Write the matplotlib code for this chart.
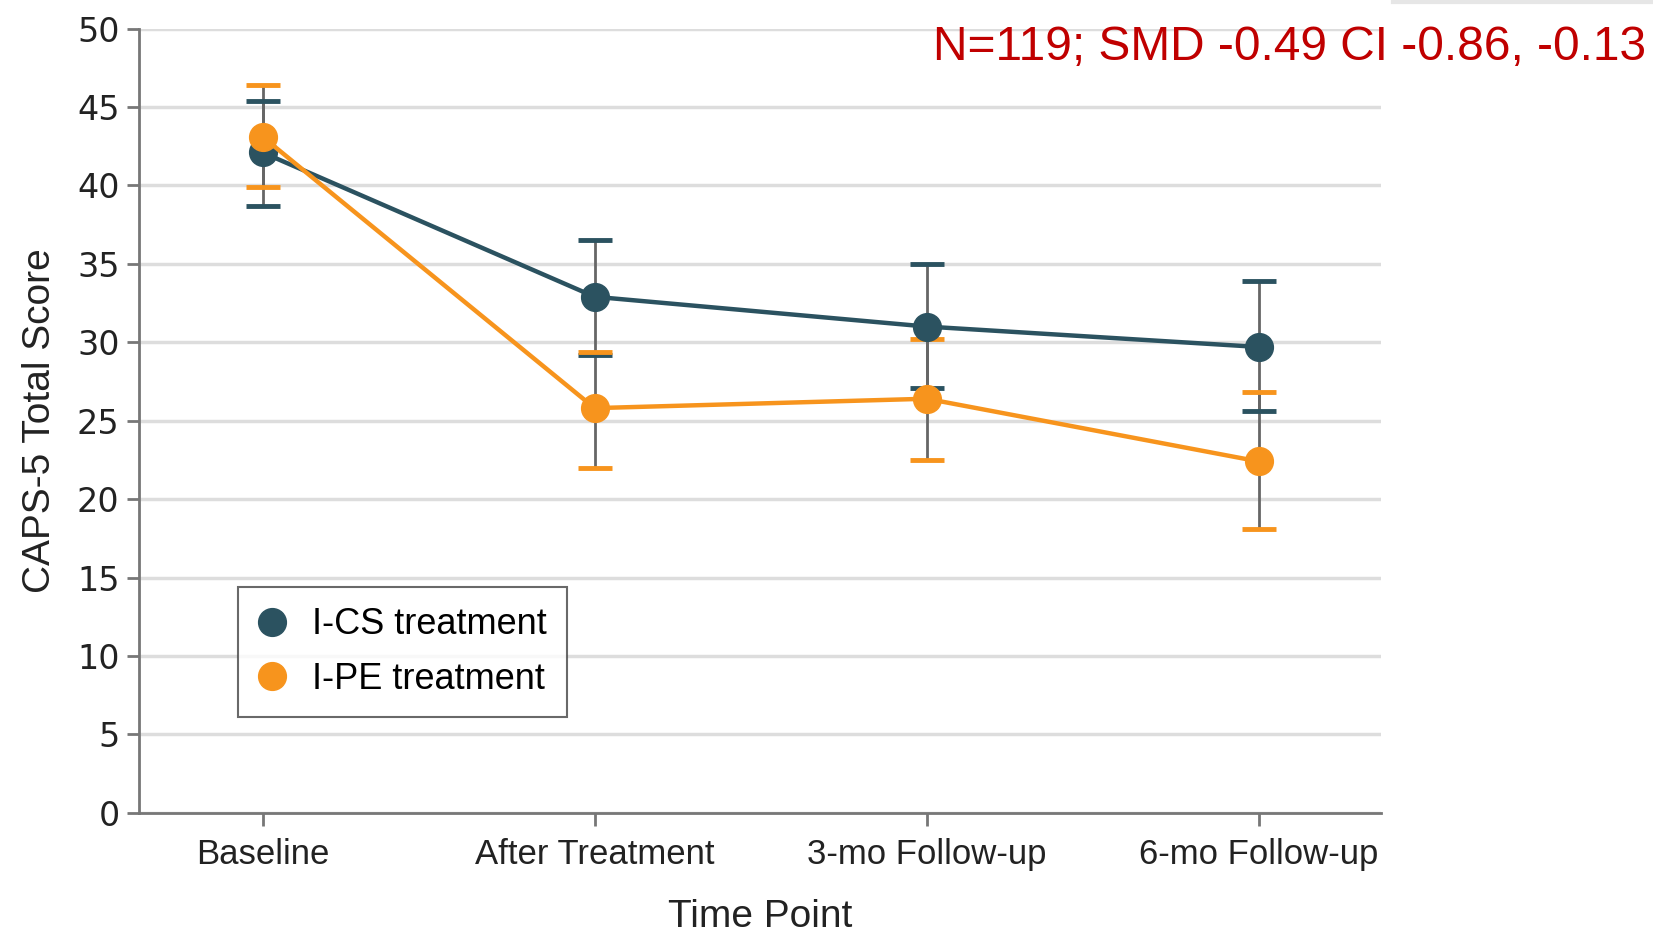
import matplotlib.pyplot as plt
from matplotlib.lines import Line2D

timepoints = ["Baseline", "After Treatment", "3-mo Follow-up", "6-mo Follow-up"]

ics_mean = [42.1, 32.9, 31.0, 29.7]
ics_low = [38.7, 29.2, 27.1, 25.6]
ics_high = [45.4, 36.5, 35.0, 33.9]

ipe_mean = [43.1, 25.8, 26.4, 22.4]
ipe_low = [39.9, 22.0, 22.5, 18.1]
ipe_high = [46.4, 29.4, 30.2, 26.8]

ics_color = "#2b5260"
ipe_color = "#f7941d"
label_font = ["Liberation Sans", "DejaVu Sans"]

fig = plt.figure(figsize=(16.53, 9.33), dpi=100)
ax = fig.add_axes([0.0841, 0.1288, 0.7514, 0.8406])

x = list(range(len(timepoints)))

# gray whiskers first, then colored caps
for lo, hi in [(ics_low, ics_high), (ipe_low, ipe_high)]:
    ax.vlines(x, lo, hi, color="#666666", lw=2, zorder=3)
ax.plot(x, ics_high, ls="none", marker="_", ms=24, mew=3.5, color=ics_color, zorder=4)
ax.plot(x, ics_low, ls="none", marker="_", ms=24, mew=3.5, color=ics_color, zorder=4)
ax.plot(x, ipe_high, ls="none", marker="_", ms=24, mew=3.5, color=ipe_color, zorder=4)
ax.plot(x, ipe_low, ls="none", marker="_", ms=24, mew=3.5, color=ipe_color, zorder=4)

ax.plot(x, ics_mean, color=ics_color, lw=3.2, marker="o", ms=20, zorder=5, label="I-CS treatment")
ax.plot(x, ipe_mean, color=ipe_color, lw=3.2, marker="o", ms=20, zorder=6, label="I-PE treatment")

ax.set_xlim(-0.372, 3.368)
ax.set_ylim(0, 50)
ax.set_yticks(range(0, 51, 5))
ax.set_xticks(x)
ax.set_xticklabels(timepoints, family=label_font, fontsize=25, color="#222222")
for lab in ax.get_yticklabels():
    lab.set_fontsize(24)
    lab.set_color("#222222")

ax.grid(axis="y", color="#dddddd", lw=2.5, zorder=0)
ax.set_axisbelow(True)
for s in ["top", "right"]:
    ax.spines[s].set_visible(False)
for s in ["left", "bottom"]:
    ax.spines[s].set_color("#777777")
    ax.spines[s].set_linewidth(2)
ax.tick_params(axis="both", length=9, width=2, color="#777777", pad=5)
ax.tick_params(axis="x", pad=9)

ax.set_ylabel("CAPS-5 Total Score", family=label_font, fontsize=28, color="#222222", labelpad=14)
ax.set_xlabel("Time Point", family=label_font, fontsize=28, color="#222222", labelpad=20)

leg = ax.legend(loc="lower left", bbox_to_anchor=(0.0798, 0.1223), borderaxespad=0,
                prop={"family": label_font, "size": 26}, frameon=True, fancybox=False,
                edgecolor="#444444", handlelength=0.8, handletextpad=0.7,
                borderpad=0.55, labelspacing=0.55)
for h in leg.legend_handles:
    h.set_linestyle("none")
leg.get_frame().set_linewidth(1.5)

fig.text(0.5644, 0.9357, "N=119; SMD -0.49 CI -0.86, -0.13", color="#c00000",
         fontsize=34.5, family="Liberation Sans", ha="left", va="baseline")
fig.add_artist(Line2D([0.843, 1.0], [0.998, 0.998], color="#e6e6e6", lw=3,
                      transform=fig.transFigure))

fig.savefig("out.png", dpi=100)
